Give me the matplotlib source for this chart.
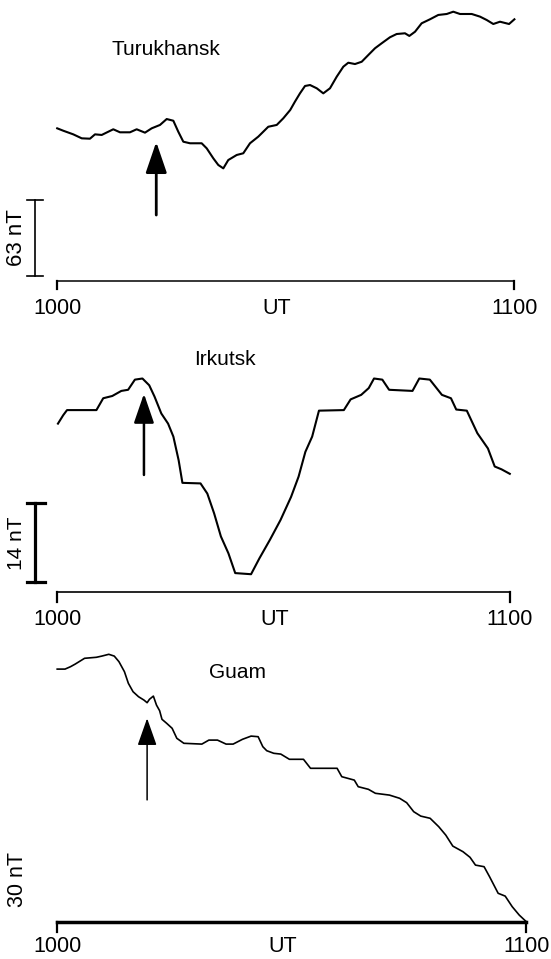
import matplotlib
matplotlib.use("Agg")
import matplotlib.pyplot as plt

W, H = 551, 959

# minutes after 1000 UT, field in nT (relative to the base line of each panel)
t_turukhansk = [0.0, 0.8, 2.11, 3.22, 4.3, 4.96, 5.84, 6.71, 7.36, 8.24, 9.55, 10.43, 11.52, 12.4,
                13.49, 14.37, 15.24, 15.89, 16.55, 17.43, 18.96, 19.62, 20.49, 21.14, 21.8, 22.45,
                23.56, 24.42, 25.3, 26.39, 27.7, 28.81, 29.67, 30.58, 31.2, 31.86, 32.52, 33.18,
                34.06, 34.92, 35.8, 36.68, 37.55, 38.2, 39.08, 39.96, 40.83, 41.71, 42.58, 43.67,
                44.55, 45.64, 46.21, 46.96, 47.83, 48.92, 50.01, 51.12, 51.98, 52.86, 54.4, 55.49,
                56.37, 57.23, 58.11, 59.3, 60.0]
b_turukhansk = [126.6, 124.6, 121.6, 118.3, 118.0, 121.6, 121.1, 123.8, 125.8, 123.3, 123.3, 125.8,
                123.0, 126.6, 129.4, 134.3, 132.9, 123.8, 115.5, 114.2, 114.2, 110.0, 101.7, 96.2,
                93.4, 100.3, 104.5, 105.9, 114.2, 119.7, 127.9, 129.4, 134.9, 141.8, 148.7, 155.6,
                161.7, 162.5, 159.8, 155.6, 159.8, 169.4, 177.7, 181.0, 179.9, 181.8, 187.4, 193.0,
                197.1, 202.1, 204.8, 205.4, 203.2, 206.7, 213.7, 217.0, 220.6, 221.4, 223.3, 221.4,
                221.4, 219.2, 216.4, 213.1, 215.0, 213.1, 217.0]

t_irkutsk = [0.1, 0.8, 1.3, 5.2, 6.1, 7.3, 8.5, 9.4, 10.3, 11.3, 12.2, 12.9, 13.8, 14.7, 15.4, 16.1,
             16.6, 19.0, 19.9, 20.8, 21.7, 22.7, 23.6, 25.7, 26.8, 28.2, 29.6, 31.0, 32.0, 32.9,
             33.8, 34.7, 38.0, 38.9, 40.3, 41.3, 42.0, 43.1, 44.0, 47.1, 48.0, 49.4, 51.0, 52.2,
             52.9, 54.3, 55.7, 57.1, 58.0, 58.9, 60.0]
b_irkutsk = [29.8, 31.3, 32.2, 32.2, 34.3, 34.7, 35.6, 35.8, 37.6, 37.8, 36.6, 34.6, 31.6, 29.8,
             27.5, 23.3, 19.3, 19.2, 17.4, 13.9, 9.8, 6.8, 3.3, 3.1, 5.9, 9.2, 12.7, 16.8, 20.4,
             24.8, 27.5, 32.1, 32.2, 34.1, 34.9, 36.1, 37.8, 37.6, 35.8, 35.6, 37.8, 37.6, 34.9,
             34.3, 32.3, 32.1, 28.1, 25.4, 22.2, 21.7, 20.9]

t_guam = [0.0, 1.0, 1.7, 2.3, 3.5, 5.0, 5.7, 6.6, 7.3, 7.9, 8.6, 9.1, 9.7, 10.4, 11.1, 11.5, 11.8,
          12.3, 12.7, 13.1, 13.4, 14.0, 14.7, 15.3, 16.2, 18.5, 19.4, 20.5, 21.6, 22.5, 23.7, 24.8,
          25.7, 26.3, 26.8, 27.7, 28.6, 29.7, 31.5, 32.4, 35.8, 36.4, 38.0, 38.5, 39.8, 40.7, 42.5,
          43.8, 44.7, 45.6, 46.5, 47.7, 48.8, 49.7, 50.6, 51.9, 52.8, 53.5, 54.6, 55.3, 56.4, 57.3,
          58.2, 59.1, 60.0]
b_guam = [126.3, 126.3, 127.5, 128.8, 131.7, 132.2, 132.8, 133.7, 132.8, 130.0, 125.0, 119.2, 115.0,
          112.5, 110.8, 109.5, 111.2, 112.8, 108.3, 105.5, 101.2, 99.2, 96.7, 91.7, 89.2, 88.8,
          90.8, 90.8, 88.8, 88.8, 91.2, 92.8, 92.5, 87.5, 85.5, 84.2, 83.8, 81.2, 81.2, 76.7, 76.7,
          72.5, 70.8, 67.5, 66.2, 64.2, 63.3, 61.7, 59.5, 55.0, 52.8, 51.7, 47.5, 43.3, 37.8, 35.0,
          32.2, 28.3, 27.5, 22.5, 14.2, 12.8, 7.5, 3.3, 0.0]

stations = ["Turukhansk", "Irkutsk", "Guam"]
scale_nt = [63, 14, 30]
arrow_t = [13.0, 11.5, 11.5]
arrow_from = [54.7, 20.7, 60.9]
arrow_to = [115.3, 35.1, 101.7]
tick_labels = ["1000", "1100"]

font = ["Liberation Sans", "DejaVu Sans"]

fig = plt.figure(figsize=(W / 100, H / 100), dpi=100)


def panel(top, bottom, base, x0, x1, ppn):
    ax = fig.add_axes([0, 1 - bottom / H, 1, (bottom - top) / H])
    sx = (x1 - x0) / 60
    ax.set_xlim(-x0 / sx, (W - x0) / sx)
    ax.set_ylim((base - bottom) / ppn, (base - top) / ppn)
    ax.axis("off")
    return ax


# --- Turukhansk
ax = panel(0, 320, 281, 57.2, 514.4, 1.206)
ax.plot(t_turukhansk, b_turukhansk, color="black", lw=1.5)
ax.plot([0, 60], [0, 0], color="black", lw=1.1)
for x in (0, 60):
    ax.plot([x, x], [0, -8 / 1.206], color="black", lw=1.6)
ax.plot([-2.85, -2.85], [4.1, 4.1 + scale_nt[0]], color="black", lw=1.2)
for y in (4.1, 4.1 + scale_nt[0]):
    ax.plot([-4.0, -1.82], [y, y], color="black", lw=1.2)
ax.text(-5.31, 35.7, "%d nT" % scale_nt[0], rotation=90, ha="center", va="center",
        fontsize=16, family=font)
ax.text(14.25, 187.4, stations[0], ha="center", va="baseline", fontsize=15, family=font)
ax.annotate("", xy=(arrow_t[0], arrow_to[0]), xytext=(arrow_t[0], arrow_from[0]),
            arrowprops=dict(arrowstyle="-|>,head_length=19,head_width=6.5", mutation_scale=1,
                            color="black", lw=2.0, shrinkA=0, shrinkB=0))
axes_list = [(ax, -23.5)]

# --- Irkutsk
ax = panel(320, 620, 591.7, 57.2, 509.8, 5.64)
ax.plot(t_irkutsk, b_irkutsk, color="black", lw=1.5)
ax.plot([0, 60], [0, 0], color="black", lw=1.2)
for x in (0, 60):
    ax.plot([x, x], [0, -10 / 5.64], color="black", lw=1.6)
ax.plot([-2.94, -2.94], [1.77, 1.77 + scale_nt[1]], color="black", lw=2.3)
for y in (1.77, 1.77 + scale_nt[1]):
    ax.plot([-4.04, -1.62], [y, y], color="black", lw=2.3)
ax.text(-5.37, 8.6, "%d nT" % scale_nt[1], rotation=90, ha="center", va="center",
        fontsize=15, family=font)
ax.text(22.3, 40.2, stations[1], ha="center", va="baseline", fontsize=15, family=font)
ax.annotate("", xy=(arrow_t[1], arrow_to[1]), xytext=(arrow_t[1], arrow_from[1]),
            arrowprops=dict(arrowstyle="-|>,head_length=18,head_width=6.2", mutation_scale=1,
                            color="black", lw=1.8, shrinkA=0, shrinkB=0))
axes_list.append((ax, -24.0))

# --- Guam (no bar drawn for the 30 nT scale in the original)
ax = panel(620, 959, 921.7, 57.2, 526.3, 2.0)
ax.plot(t_guam, b_guam, color="black", lw=1.2)
ax.plot([0, 60], [0, 0], color="black", lw=2.5)
for x in (0, 60):
    ax.plot([x, x], [0, -10 / 2.0], color="black", lw=1.6)
ax.text(-5.14, 21.3, "%d nT" % scale_nt[2], rotation=90, ha="center", va="center",
        fontsize=15.5, family=font)
ax.text(23.0, 121.7, stations[2], ha="center", va="baseline", fontsize=15, family=font)
ax.annotate("", xy=(arrow_t[2], arrow_to[2]), xytext=(arrow_t[2], arrow_from[2]),
            arrowprops=dict(arrowstyle="-|>,head_length=17,head_width=6", mutation_scale=1,
                            color="black", lw=1.1, shrinkA=0, shrinkB=0))
axes_list.append((ax, -22.0))

# time labels under each base line
for ax, off in axes_list:
    for x, lab in zip((0, 60), tick_labels):
        ax.annotate(lab, xy=(x, 0), xytext=(0, off), textcoords="offset points",
                    ha="center", va="baseline", fontsize=15.5, family=font)
    ax.annotate("UT", xy=(28.8, 0), xytext=(0, off), textcoords="offset points",
                ha="center", va="baseline", fontsize=15.5, family=font)

fig.savefig("out.png", dpi=100, facecolor="white")
